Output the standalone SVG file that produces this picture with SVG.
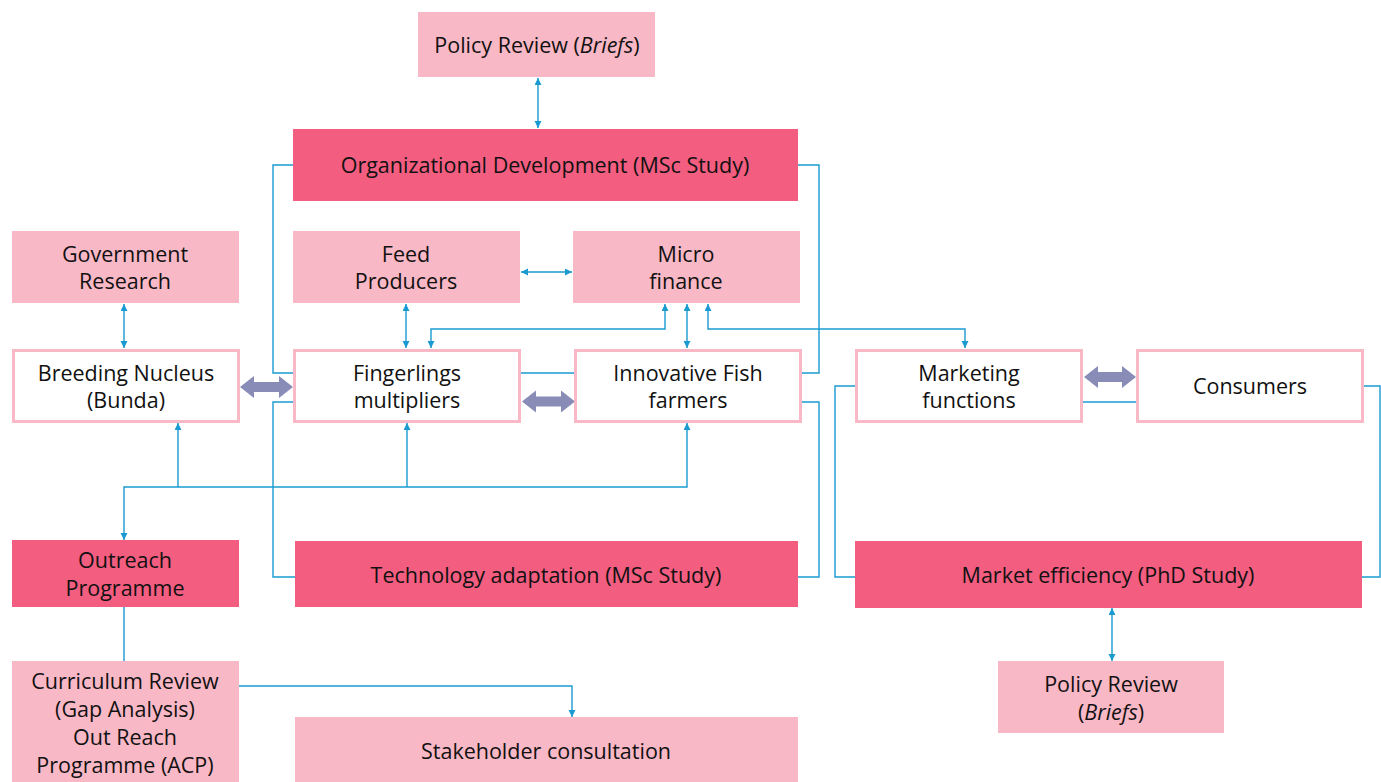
<svg xmlns="http://www.w3.org/2000/svg" width="1381" height="782" viewBox="0 0 1381 782">
<style>
.lt{fill:#F9B8C6}
.dk{fill:#F25D80}
.wb{fill:#fff;stroke:#F9B8C6;stroke-width:3}
text{font-family:"Open Sans","Noto Sans","Liberation Sans",sans-serif;font-size:21.5px;fill:#111;text-anchor:middle}
.c{fill:none;stroke:#1A9AD0;stroke-width:1.4}
.a{marker-start:url(#ah);marker-end:url(#ah)}
.e{marker-end:url(#ah)}
.t{fill:#888CB6}
</style>
<defs>
<marker id="ah" markerUnits="userSpaceOnUse" markerWidth="8" markerHeight="8" refX="7" refY="3.5" orient="auto-start-reverse">
<path d="M0,0 L7,3.5 L0,7 z" fill="#1A9AD0"/>
</marker>
</defs>
<g id="connectors">
<path class="c a" d="M538,78 V128"/>
<path class="c a" d="M124,304 V348"/>
<path class="c a" d="M521,272 H572"/>
<path class="c a" d="M406,304 V348"/>
<path class="c a" d="M665,304 V329 H431 V348"/>
<path class="c a" d="M687,304 V348"/>
<path class="c a" d="M708,304 V329 H965 V348"/>
<path class="c" d="M293,165 H273 V373 H293"/>
<path class="c" d="M798,165 H819 V373 H801"/>
<path class="c" d="M521,373 H575"/>
<path class="c" d="M293,402 H273 V577 H295"/>
<path class="c" d="M801,402 H819 V577 H798"/>
<path class="c a" d="M124,540 V487 H687 V423"/>
<path class="c e" d="M178,487 V423"/>
<path class="c e" d="M407,487 V423"/>
<path class="c" d="M124,607 V661"/>
<path class="c e" d="M239,686 H572 V717"/>
<path class="c" d="M1083,402 H1136"/>
<path class="c" d="M856,386 H835 V577 H855"/>
<path class="c" d="M1363,386 H1380 V577 H1362"/>
<path class="c a" d="M1112,608 V661"/>
<polygon class="t" points="240,387 254,376 254,382 279,382 279,376 293,387 279,398 279,392 254,392 254,398"/>
<polygon class="t" points="522,401.5 536,390.5 536,396.5 561,396.5 561,390.5 575,401.5 561,412.5 561,406.5 536,406.5 536,412.5"/>
<polygon class="t" points="1084,377 1098,366 1098,372 1122,372 1122,366 1136,377 1122,388 1122,382 1098,382 1098,388"/>
</g>
<g id="policy-top"><rect class="lt" x="418" y="12" width="237" height="65"/><text x="537" y="53">Policy Review (<tspan font-style="italic">Briefs</tspan>)</text></g>
<g id="org-dev"><rect class="dk" x="293" y="129" width="505" height="72"/><text x="545" y="173">Organizational Development (MSc Study)</text></g>
<g id="gov-research"><rect class="lt" x="12" y="231" width="227" height="72"/><text x="125" y="262">Government</text><text x="125" y="289">Research</text></g>
<g id="feed"><rect class="lt" x="293" y="231" width="227" height="72"/><text x="406" y="262">Feed</text><text x="406" y="289">Producers</text></g>
<g id="micro"><rect class="lt" x="573" y="231" width="227" height="72"/><text x="686" y="262">Micro</text><text x="686" y="289">finance</text></g>
<g id="breeding"><rect class="wb" x="13.5" y="350.5" width="225" height="71"/><text x="126" y="381">Breeding Nucleus</text><text x="126" y="408">(Bunda)</text></g>
<g id="fingerlings"><rect class="wb" x="294.5" y="350.5" width="225" height="71"/><text x="407" y="381">Fingerlings</text><text x="407" y="408">multipliers</text></g>
<g id="innovative"><rect class="wb" x="575.5" y="350.5" width="225" height="71"/><text x="688" y="381">Innovative Fish</text><text x="688" y="408">farmers</text></g>
<g id="marketing"><rect class="wb" x="856.5" y="350.5" width="225" height="71"/><text x="969" y="381">Marketing</text><text x="969" y="408">functions</text></g>
<g id="consumers"><rect class="wb" x="1137.5" y="350.5" width="225" height="71"/><text x="1250" y="394">Consumers</text></g>
<g id="outreach"><rect class="dk" x="12" y="540" width="227" height="67"/><text x="125" y="568">Outreach</text><text x="125" y="596">Programme</text></g>
<g id="tech"><rect class="dk" x="295" y="541" width="503" height="66"/><text x="546" y="583">Technology adaptation (MSc Study)</text></g>
<g id="market-eff"><rect class="dk" x="855" y="541" width="507" height="67"/><text x="1108" y="583">Market efficiency (PhD Study)</text></g>
<g id="curriculum"><rect class="lt" x="12" y="661" width="227" height="121"/><text x="125" y="689">Curriculum Review</text><text x="125" y="717">(Gap Analysis)</text><text x="125" y="745">Out Reach</text><text x="125" y="773">Programme (ACP)</text></g>
<g id="stakeholder"><rect class="lt" x="295" y="717" width="503" height="65"/><text x="546" y="759">Stakeholder consultation</text></g>
<g id="policy-bottom"><rect class="lt" x="998" y="661" width="226" height="72"/><text x="1111" y="692">Policy Review</text><text x="1111" y="720">(<tspan font-style="italic">Briefs</tspan>)</text></g>
</svg>
